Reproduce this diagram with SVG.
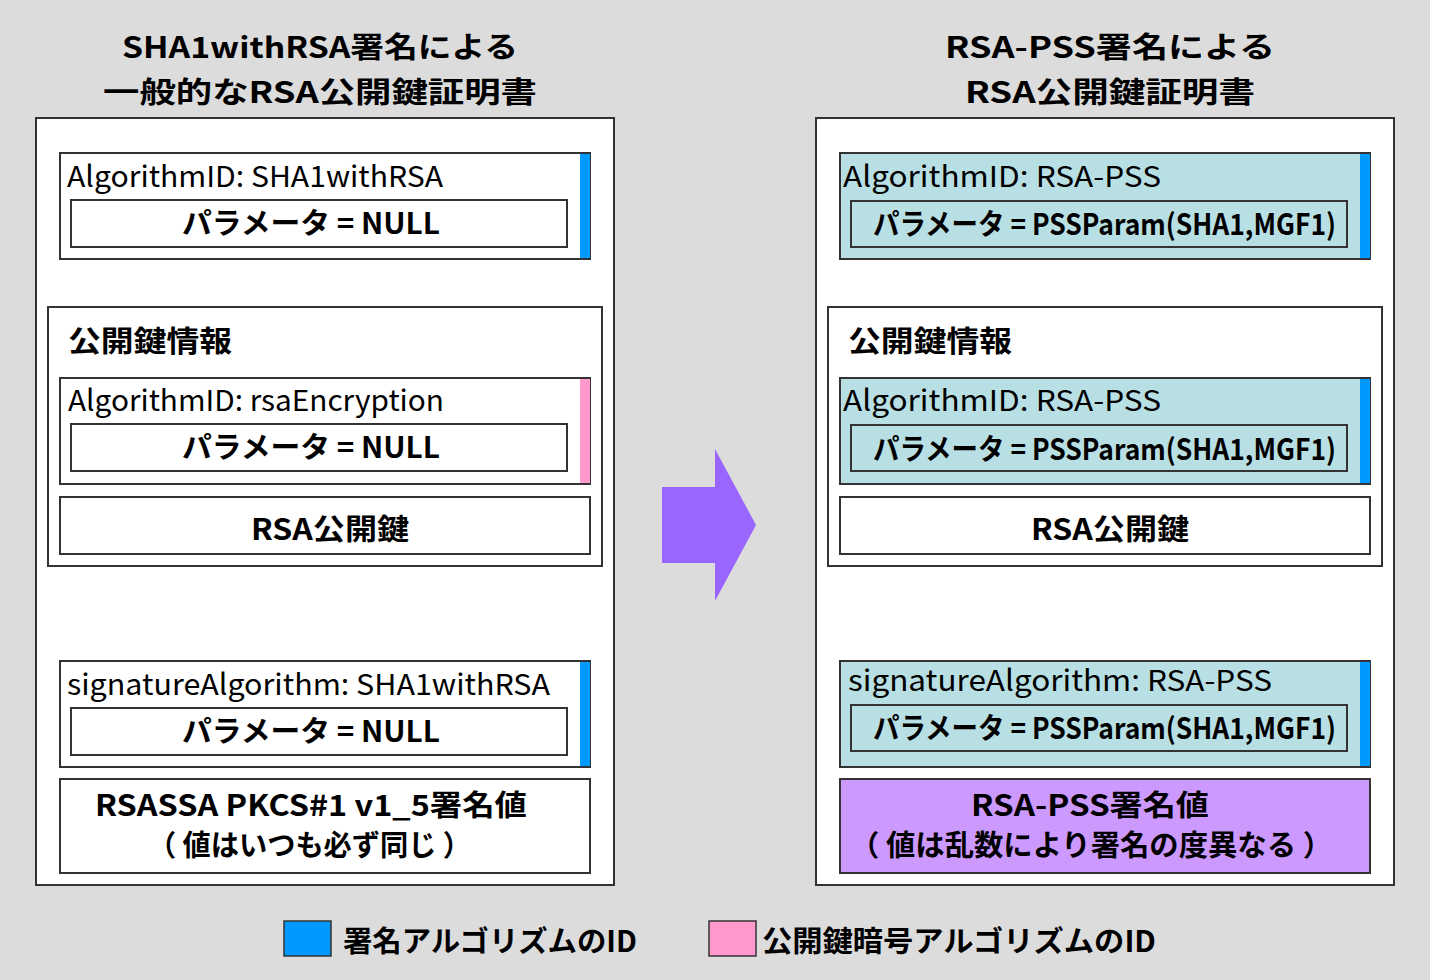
<svg xmlns="http://www.w3.org/2000/svg" width="1430" height="980" viewBox="0 0 1430 980">
<style>
text{font-family:"Noto Sans CJK JP","Liberation Sans",sans-serif;fill:#000;font-size:29px;font-weight:bold}
.lb{font-weight:normal}
.c{text-anchor:middle}
.w{fill:#fff;stroke:#333;stroke-width:2}
.t{fill:#b8dfe3;stroke:#333;stroke-width:2}
.p{fill:#cc99ff;stroke:#333;stroke-width:2}
</style>
<rect width="1430" height="980" fill="#dcdcdc"/>
<g id="titles">
<text class="c" x="320" y="58" textLength="396" lengthAdjust="spacingAndGlyphs">SHA1withRSA署名による</text>
<text class="c" x="320" y="103" textLength="434" lengthAdjust="spacingAndGlyphs">一般的なRSA公開鍵証明書</text>
<text class="c" x="1110" y="58" textLength="330" lengthAdjust="spacingAndGlyphs">RSA-PSS署名による</text>
<text class="c" x="1110" y="103" textLength="290" lengthAdjust="spacingAndGlyphs">RSA公開鍵証明書</text>
</g>
<g id="left">
<rect class="w" x="36" y="118" width="578" height="767"/>
<g id="l-alg"><rect class="w" x="60" y="153" width="530" height="106"/><rect x="580" y="154" width="10" height="104" fill="#0099ff"/>
<text class="lb" x="67" y="187" textLength="376" lengthAdjust="spacingAndGlyphs">AlgorithmID: SHA1withRSA</text>
<rect class="w" x="71" y="200" width="496" height="47"/><text class="c" x="311" y="234" textLength="258" lengthAdjust="spacingAndGlyphs">パラメータ = NULL</text></g>
<g id="l-pki"><rect class="w" x="48" y="307" width="554" height="259"/>
<text x="68" y="352" textLength="164" lengthAdjust="spacingAndGlyphs">公開鍵情報</text>
<rect class="w" x="60" y="378" width="530" height="106"/><rect x="580" y="379" width="10" height="104" fill="#ff99cc"/>
<text class="lb" x="68" y="411" textLength="376" lengthAdjust="spacingAndGlyphs">AlgorithmID: rsaEncryption</text>
<rect class="w" x="71" y="424" width="496" height="47"/><text class="c" x="311" y="458" textLength="258" lengthAdjust="spacingAndGlyphs">パラメータ = NULL</text>
<rect class="w" x="60" y="497" width="530" height="57"/><text class="c" x="330" y="540" textLength="158" lengthAdjust="spacingAndGlyphs">RSA公開鍵</text></g>
<g id="l-sig"><rect class="w" x="60" y="661" width="530" height="106"/><rect x="580" y="662" width="10" height="104" fill="#0099ff"/>
<text class="lb" x="67" y="695" textLength="483" lengthAdjust="spacingAndGlyphs">signatureAlgorithm: SHA1withRSA</text>
<rect class="w" x="71" y="708" width="496" height="47"/><text class="c" x="311" y="742" textLength="258" lengthAdjust="spacingAndGlyphs">パラメータ = NULL</text></g>
<g id="l-val"><rect class="w" x="60" y="779" width="530" height="94"/>
<text x="95" y="816" textLength="432" lengthAdjust="spacingAndGlyphs">RSASSA PKCS#1 v1_5署名値</text>
<text x="148" y="856" textLength="323" lengthAdjust="spacingAndGlyphs">（ 値はいつも必ず同じ ）</text></g>
</g>
<g id="connectors"><polygon points="662,487 715,487 715,449 756,525 715,601 715,563 662,563" fill="#9966ff"/></g>
<g id="right">
<rect class="w" x="816" y="118" width="578" height="767"/>
<g id="r-alg"><rect class="t" x="840" y="153" width="530" height="106"/><rect x="1360" y="154" width="10" height="104" fill="#0099ff"/>
<text class="lb" x="843" y="187" textLength="318" lengthAdjust="spacingAndGlyphs">AlgorithmID: RSA-PSS</text>
<rect class="t" x="851" y="201" width="496" height="46"/><text x="873" y="235" textLength="463" lengthAdjust="spacingAndGlyphs">パラメータ = PSSParam(SHA1,MGF1)</text></g>
<g id="r-pki"><rect class="w" x="828" y="307" width="554" height="259"/>
<text x="848" y="352" textLength="164" lengthAdjust="spacingAndGlyphs">公開鍵情報</text>
<rect class="t" x="840" y="378" width="530" height="106"/><rect x="1360" y="379" width="10" height="104" fill="#0099ff"/>
<text class="lb" x="843" y="411" textLength="318" lengthAdjust="spacingAndGlyphs">AlgorithmID: RSA-PSS</text>
<rect class="t" x="851" y="425" width="496" height="46"/><text x="873" y="460" textLength="463" lengthAdjust="spacingAndGlyphs">パラメータ = PSSParam(SHA1,MGF1)</text>
<rect class="w" x="840" y="497" width="530" height="57"/><text class="c" x="1110" y="540" textLength="158" lengthAdjust="spacingAndGlyphs">RSA公開鍵</text></g>
<g id="r-sig"><rect class="t" x="840" y="661" width="530" height="106"/><rect x="1360" y="662" width="10" height="104" fill="#0099ff"/>
<text class="lb" x="848" y="691" textLength="424" lengthAdjust="spacingAndGlyphs">signatureAlgorithm: RSA-PSS</text>
<rect class="t" x="851" y="705" width="496" height="46"/><text x="873" y="739" textLength="463" lengthAdjust="spacingAndGlyphs">パラメータ = PSSParam(SHA1,MGF1)</text></g>
<g id="r-val"><rect class="p" x="840" y="779" width="530" height="94"/>
<text class="c" x="1090" y="816" textLength="238" lengthAdjust="spacingAndGlyphs">RSA-PSS署名値</text>
<text x="850" y="856" textLength="482" lengthAdjust="spacingAndGlyphs">（ 値は乱数により署名の度異なる ）</text></g>
</g>
<g id="legend">
<rect x="284" y="921" width="47" height="35" fill="#0099ff" stroke="#333" stroke-width="1.5"/>
<text x="343" y="952" textLength="294" lengthAdjust="spacingAndGlyphs">署名アルゴリズムのID</text>
<rect x="709" y="921" width="47" height="35" fill="#ff99cc" stroke="#333" stroke-width="1.5"/>
<text x="762" y="952" textLength="394" lengthAdjust="spacingAndGlyphs">公開鍵暗号アルゴリズムのID</text>
</g>
</svg>
